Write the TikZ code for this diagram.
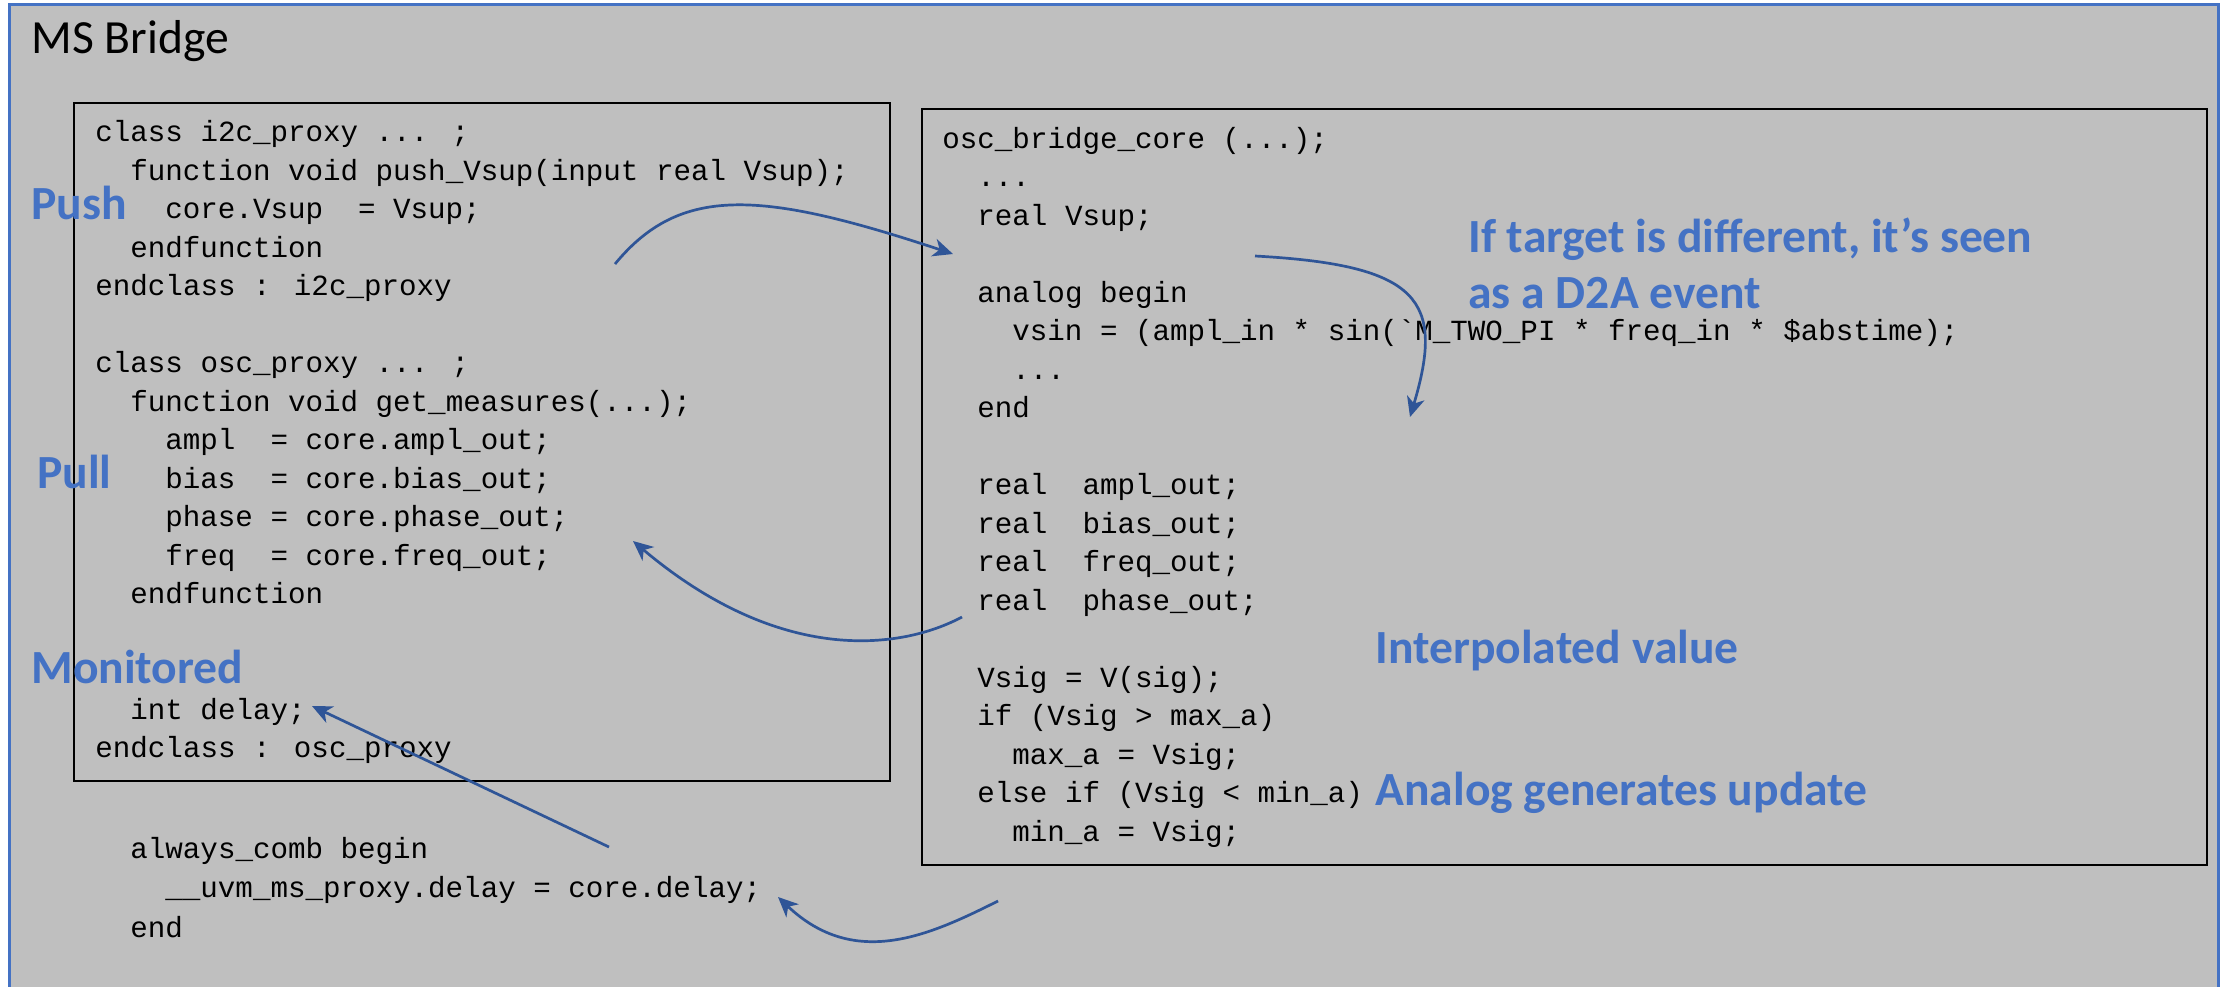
\documentclass[tikz,border=0pt]{standalone}
\usepackage{fontspec}
\setmainfont{Carlito}
\newfontfamily\codefont{Liberation Mono}[Ligatures=TeXOff]
\usetikzlibrary{arrows.meta}
\definecolor{slidegray}{RGB}{191,191,191}
\definecolor{framebl}{RGB}{68,114,196}
\definecolor{notebl}{RGB}{68,114,196}
\definecolor{arrowbl}{RGB}{47,85,151}

\begin{document}
\begin{tikzpicture}[x=0.5pt,y=-0.5pt,
  code/.style={anchor=base west, inner sep=0pt, font=\codefont\fontsize{14.6pt}{17pt}\selectfont},
  note/.style={anchor=base west, inner sep=0pt, text=notebl, font=\bfseries\fontsize{23.8pt}{28pt}\selectfont},
  heading/.style={anchor=base west, inner sep=0pt, font=\fontsize{23.8pt}{28pt}\selectfont},
  codebox/.style={draw=black, line width=1.1pt},
  link/.style={draw=arrowbl, line width=1.35pt, -{Stealth[length=10pt,width=9pt,inset=3pt]}}]

\useasboundingbox (0,0) rectangle (2226,986);
\clip (0,0) rectangle (2226,986);
\fill[white] (0,0) rectangle (2226,986);

% outer frame and the two code panels
\draw[framebl, line width=1.5pt, fill=slidegray] (9,4.7) rectangle (2218.5,995);
\draw[codebox] (74,102.7) rectangle (890,781);
\draw[codebox] (922,109) rectangle (2207,865);

\node[heading] (title) at (31,53) {MS Bridge};

% proxy classes
\node[code] (l0)  at (95,141.7)  {class i2c\_proxy ... ;};
\node[code] (l1)  at (130,180.2) {function void push\_Vsup(input real Vsup);};
\node[code] (l2)  at (165,218.7) {core.Vsup~ = Vsup;};
\node[code] (l3)  at (130,257.2) {endfunction};
\node[code] (l4)  at (95,295.7)  {endclass : i2c\_proxy};
\node[code] (l6)  at (95,372.7)  {class osc\_proxy ... ;};
\node[code] (l7)  at (130,411.2) {function void get\_measures(...);};
\node[code] (l8)  at (165,449.7) {ampl~ = core.ampl\_out;};
\node[code] (l9)  at (165,488.2) {bias~ = core.bias\_out;};
\node[code] (l10) at (165,526.7) {phase = core.phase\_out;};
\node[code] (l11) at (165,565.2) {freq~ = core.freq\_out;};
\node[code] (l12) at (130,603.7) {endfunction};
\node[code] (l15) at (130,719.2) {int delay;};
\node[code] (l16) at (95,757.7)  {endclass : osc\_proxy};

% monitor process
\node[code] (m0) at (130,858)   {always\_comb begin};
\node[code] (m1) at (165,897.5) {\_\_uvm\_ms\_proxy.delay = core.delay;};
\node[code] (m2) at (130,937)   {end};

% analog core
\node[code] (r0)  at (942,148)    {osc\_bridge\_core (...);};
\node[code] (r1)  at (977,186.5)  {...};
\node[code] (r2)  at (977,225)    {real Vsup;};
\node[code] (r4)  at (977,302)    {analog begin};
\node[code] (r5)  at (1012,340.5) {vsin = (ampl\_in * sin(`M\_TWO\_PI * freq\_in * \$abstime);};
\node[code] (r6)  at (1012,379)   {...};
\node[code] (r7)  at (977,417.5)  {end};
\node[code] (r9)  at (977,494.5)  {real~ ampl\_out;};
\node[code] (r10) at (977,533)    {real~ bias\_out;};
\node[code] (r11) at (977,571.5)  {real~ freq\_out;};
\node[code] (r12) at (977,610)    {real~ phase\_out;};
\node[code] (r14) at (977,687)    {Vsig = V(sig);};
\node[code] (r15) at (977,725.5)  {if (Vsig > max\_a)};
\node[code] (r16) at (1012,764)   {max\_a = Vsig;};
\node[code] (r17) at (977,802.5)  {else if (Vsig < min\_a)};
\node[code] (r18) at (1012,841)   {min\_a = Vsig;};

% annotations
\node[note] (push) at (31,219)   {Push};
\node[note] (pull) at (37,488)   {Pull};
\node[note] (mon)  at (31,683)   {Monitored};
\node[note] (d2a1) at (1468,252) {If target is different, it’s seen};
\node[note] (d2a2) at (1468,308) {as a D2A event};
\node[note] (interp) at (1375,663) {Interpolated value};
\node[note] (upd)  at (1375,805) {Analog generates update};

% data flow
\coordinate (pushS) at (615,264);
\coordinate (pushE) at (953,254);
\coordinate (d2aS)  at (1255,256);
\coordinate (d2aE)  at (1410,417);
\coordinate (pullS) at (962,617);
\coordinate (pullE) at (633,541);
\coordinate (monS)  at (609,847);
\coordinate (monE)  at (312,706);
\coordinate (dlyS)  at (998,901);
\coordinate (dlyE)  at (778,897);

\draw[link] (pushS) .. controls (680,185) and (760,190) .. (pushE);
\draw[link] (d2aS) .. controls (1420,265) and (1445,300) .. (d2aE);
\draw[link] (pullS) .. controls (900,650) and (780,665) .. (pullE);
\draw[link] (monS) -- (monE);
\draw[link] (dlyS) .. controls (930,935) and (855,970) .. (dlyE);
\end{tikzpicture}
\end{document}
